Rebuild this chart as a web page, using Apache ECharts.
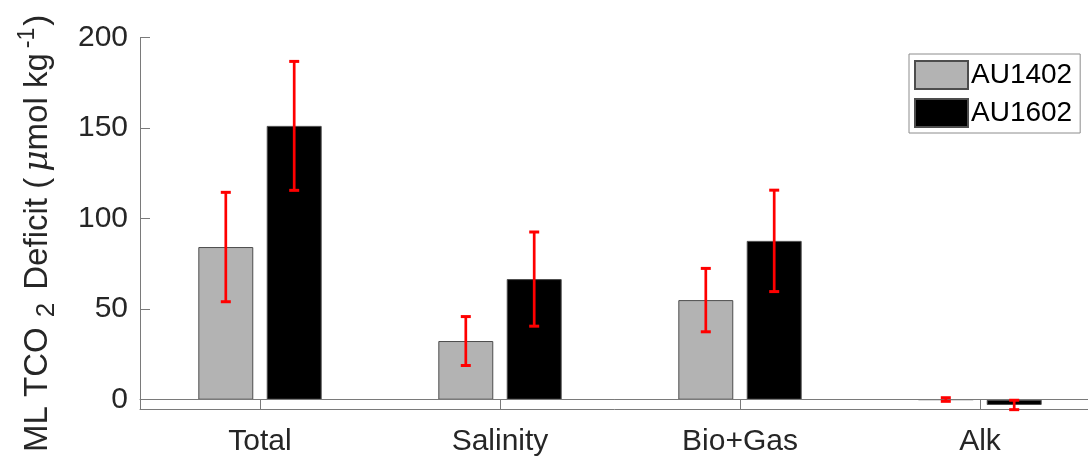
<!DOCTYPE html>
<html>
<head>
<meta charset="utf-8">
<script src="https://cdn.jsdelivr.net/npm/echarts@6/dist/echarts.min.js"></script>
<style>
  html, body { margin: 0; padding: 0; background: #fff; }
  #chart { width: 1088px; height: 458px; }
</style>
</head>
<body>
<div id="chart"></div>
<script>
// Mixed-layer TCO2 deficit by component, two voyages
const categories = ['Total', 'Salinity', 'Bio+Gas', 'Alk'];
const au1402 = [84.3, 32.4, 55.0, 0.1];
const au1602 = [151.2, 66.6, 87.7, -2.9];
const au1402Err = [30.2, 13.5, 17.5, 1.0];
const au1602Err = [35.6, 26.0, 28.0, 2.6];
const yTicks = [0, 50, 100, 150, 200];

const FONT = '"Liberation Sans", Arial, Helvetica, sans-serif';
const TEXT = '#262626';
const AXIS = '#7a7a7a';
const BAR_FRAC = 0.229;   // bar width as a share of one category band
const GAP_FRAC = 0.056;   // space between the two bars of a group
const OFFSET_FRAC = (BAR_FRAC + GAP_FRAC) / 2;

function errorBars(sign) {
  return function (params, api) {
    const i = api.value(0), v = api.value(1), e = api.value(2);
    const top = api.coord([i, v + e]);
    const bot = api.coord([i, v - e]);
    const band = api.size([1, 0])[0];
    const x = top[0] + sign * band * OFFSET_FRAC;
    const half = 5;
    return {
      type: 'group',
      children: [
        { type: 'line', shape: { x1: x, y1: top[1], x2: x, y2: bot[1] }, style: { stroke: '#ff0000', lineWidth: 2.7 } },
        { type: 'line', shape: { x1: x - half, y1: top[1], x2: x + half, y2: top[1] }, style: { stroke: '#ff0000', lineWidth: 3 } },
        { type: 'line', shape: { x1: x - half, y1: bot[1], x2: x + half, y2: bot[1] }, style: { stroke: '#ff0000', lineWidth: 3 } }
      ]
    };
  };
}

const chart = echarts.init(document.getElementById('chart'), null, { renderer: 'canvas' });

chart.setOption({
  animation: false,
  backgroundColor: '#ffffff',
  textStyle: { fontFamily: FONT },
  grid: {
    left: 140, top: 37.5, width: 960, height: 371.8,
    containLabel: false,
    outerBoundsMode: 'none'
  },
  legend: {
    data: ['AU1402', 'AU1602'],
    orient: 'vertical',
    left: 909,
    top: 54,
    itemWidth: 53,
    itemHeight: 28,
    itemGap: 8,
    padding: [6, 8, 5, 5],
    backgroundColor: '#ffffff',
    borderColor: '#8c8c8c',
    borderWidth: 1,
    borderRadius: 0,
    icon: 'rect',
    textStyle: { fontSize: 28, color: '#000', fontFamily: FONT, padding: [0, 0, 0, -2] }
  },
  xAxis: [
    {
      type: 'category',
      data: categories,
      position: 'bottom',
      axisLine: { show: true, onZero: false, lineStyle: { color: AXIS, width: 1 } },
      axisTick: { show: true, inside: true, alignWithLabel: true, length: 9, lineStyle: { color: AXIS } },
      axisLabel: { fontSize: 30, color: TEXT, margin: 17, fontFamily: FONT },
      splitLine: { show: false }
    },
    {
      type: 'category',
      data: categories,
      position: 'top',
      axisLine: { show: true, lineStyle: { color: AXIS, width: 1 } },
      axisTick: { show: true, inside: true, alignWithLabel: true, length: 9, lineStyle: { color: AXIS } },
      axisLabel: { show: false },
      splitLine: { show: false }
    }
  ],
  yAxis: {
    type: 'value',
    min: -5.3,
    max: 200,
    axisLine: { show: true, onZero: false, lineStyle: { color: AXIS, width: 1 } },
    axisTick: { show: true, inside: true, length: 10, lineStyle: { color: AXIS }, customValues: yTicks },
    axisLabel: { fontSize: 30, color: TEXT, margin: 12, fontFamily: FONT, customValues: yTicks },
    splitLine: { show: false },
    name: '{a|ML TCO}{sub|2}{a| Deficit (}{mu|\u03bc}{a|mol kg}{sup|-1}{a|)}',
    nameLocation: 'middle',
    nameRotate: 90,
    nameGap: 80,
    nameTextStyle: {
      color: TEXT,
      fontFamily: FONT,
      padding: [0, 20, 0, 0],
      rich: {
        a: { fontSize: 33, lineHeight: 44, color: TEXT, fontFamily: FONT },
        sub: { fontSize: 26, lineHeight: 10, verticalAlign: 'bottom', color: TEXT, fontFamily: FONT, padding: [0, 4, 0, 10] },
        sup: { fontSize: 23, lineHeight: 8, verticalAlign: 'top', color: TEXT, fontFamily: FONT, padding: [0, 2, 0, 5] },
        mu: { fontSize: 33, lineHeight: 44, fontStyle: 'italic', color: TEXT, fontFamily: '"DejaVu Serif", "Liberation Serif", serif', padding: [0, 0, 0, 6] }
      }
    }
  },
  series: [
    {
      name: 'AU1402',
      type: 'bar',
      data: au1402,
      barWidth: (BAR_FRAC * 100) + '%',
      barGap: (GAP_FRAC / BAR_FRAC * 100) + '%',
      itemStyle: { color: '#b3b3b3', borderColor: '#4d4d4d', borderWidth: 1 },
      markLine: {
        silent: true,
        symbol: 'none',
        label: { show: false },
        lineStyle: { color: AXIS, width: 1, type: 'solid' },
        data: [{ yAxis: 0 }]
      },
      z: 2
    },
    {
      name: 'AU1602',
      type: 'bar',
      data: au1602,
      barWidth: (BAR_FRAC * 100) + '%',
      barGap: (GAP_FRAC / BAR_FRAC * 100) + '%',
      itemStyle: { color: '#000000', borderColor: '#4d4d4d', borderWidth: 1 },
      z: 2
    },
    {
      name: 'AU1402 error',
      type: 'custom',
      renderItem: errorBars(-1),
      data: au1402.map((v, i) => [i, v, au1402Err[i]]),
      clip: false,
      z: 5
    },
    {
      name: 'AU1602 error',
      type: 'custom',
      renderItem: errorBars(1),
      data: au1602.map((v, i) => [i, v, au1602Err[i]]),
      clip: false,
      z: 5
    }
  ]
});
</script>
</body>
</html>
